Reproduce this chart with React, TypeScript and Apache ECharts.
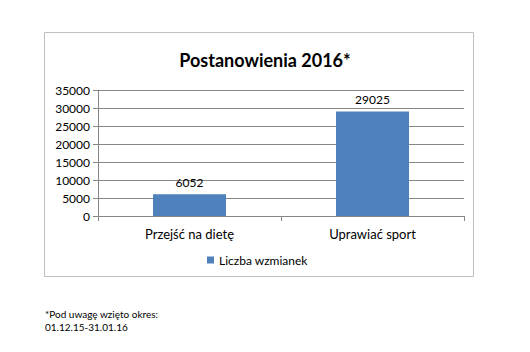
import React, { useEffect, useRef } from "react";
import * as echarts from "echarts";

const categories = ["Przejść na dietę", "Uprawiać sport"];
const mentions = [6052, 29025];
const seriesName = "Liczba wzmianek";
const titleText = "Postanowienia 2016*";
const footnoteLines = ["*Pod uwagę wzięto okres:", "01.12.15-31.01.16"];

const FONT = "Lato, 'Open Sans', sans-serif";

export default function App() {
  const ref = useRef<HTMLDivElement>(null);
  useEffect(() => {
    if (!ref.current) return;
    const chart = echarts.init(ref.current, undefined, { renderer: "svg" });
    chart.setOption({
      animation: false,
      backgroundColor: "#ffffff",
      textStyle: { fontFamily: FONT },
      title: {
        text: titleText,
        left: "center",
        top: 46,
        textStyle: { fontFamily: FONT, fontSize: 18, fontWeight: "bold", color: "#000" },
      },
      legend: {
        data: [seriesName],
        left: 202,
        top: 249,
        itemWidth: 7,
        itemHeight: 7,
        itemGap: 5,
        icon: "rect",
        textStyle: { fontFamily: FONT, fontSize: 12, color: "#000" },
      },
      graphic: [
        {
          type: "rect",
          shape: { x: 44.5, y: 32.5, width: 429, height: 244 },
          style: { fill: "none", stroke: "#bfbfbf", lineWidth: 1 },
          z: -1,
        },
        {
          type: "text",
          left: 45,
          top: 307,
          style: {
            text: footnoteLines.join("\n"),
            fontFamily: FONT,
            fontSize: 10,
            lineHeight: 13,
            fill: "#000",
          },
        },
      ],
      grid: { left: 98, right: 66, top: 90, bottom: 136 },
      xAxis: {
        type: "category",
        data: categories,
        boundaryGap: true,
        axisLine: { lineStyle: { color: "#868686" } },
        axisTick: { show: true, length: 5, alignWithLabel: false, lineStyle: { color: "#868686" } },
        axisLabel: { fontFamily: FONT, fontSize: 13, color: "#000", margin: 11 },
      },
      yAxis: {
        type: "value",
        min: 0,
        max: 35000,
        interval: 5000,
        axisLine: { show: true, lineStyle: { color: "#868686" } },
        axisTick: { show: true, length: 5, lineStyle: { color: "#868686" } },
        splitLine: { lineStyle: { color: "#868686" } },
        axisLabel: {
          fontFamily: FONT,
          fontSize: 12,
          color: "#000",
          margin: 8,
          formatter: (v: number) => String(v),
        },
      },
      series: [
        {
          name: seriesName,
          type: "bar",
          data: mentions,
          barWidth: 73,
          itemStyle: { color: "#4f81bd" },
          label: {
            show: true,
            position: "top",
            distance: 6,
            fontFamily: FONT,
            fontSize: 12,
            color: "#000",
          },
        },
      ],
    });
    return () => chart.dispose();
  }, []);
  return (
    <div
      ref={ref}
      style={{ position: "fixed", left: 0, top: 0, width: 530, height: 352 }}
    />
  );
}
